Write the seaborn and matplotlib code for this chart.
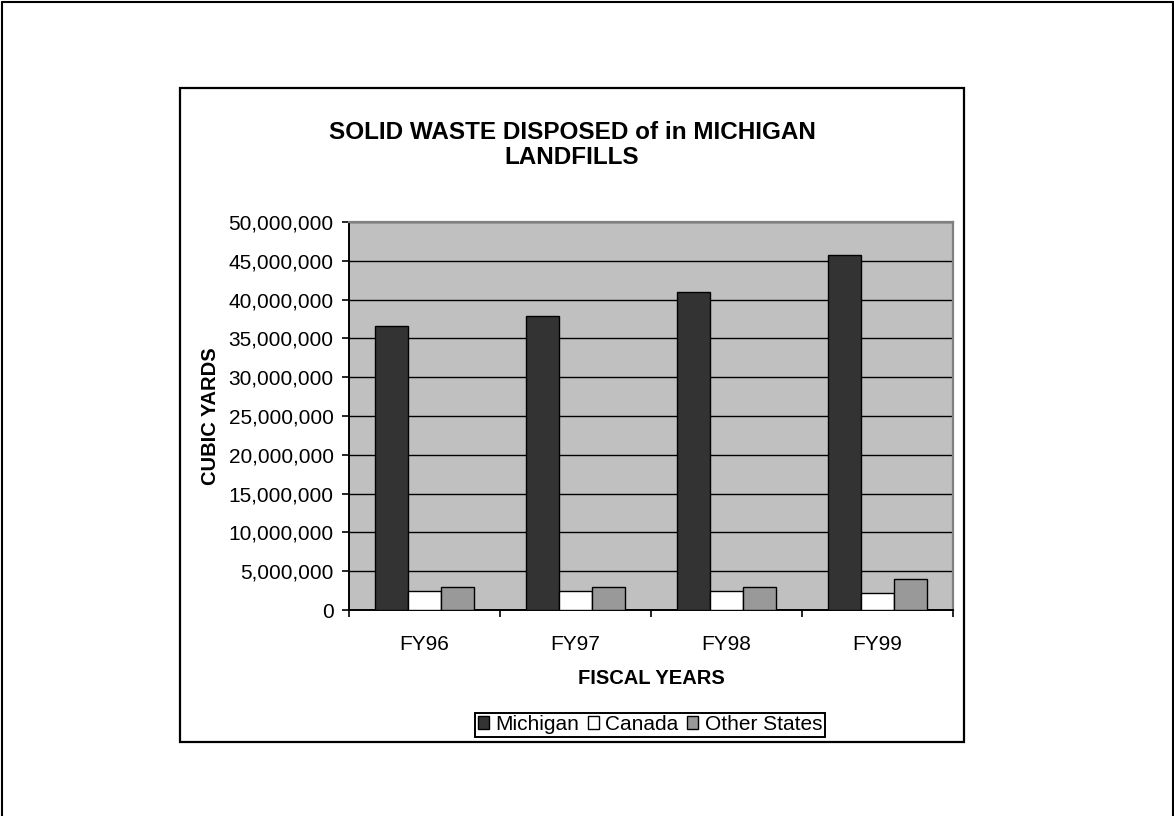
import numpy as np
import pandas as pd
import matplotlib
matplotlib.use("Agg")
import matplotlib.pyplot as plt
from matplotlib.ticker import FuncFormatter, FixedLocator
from matplotlib.lines import Line2D
from matplotlib.patches import Rectangle
import seaborn as sns

# --- data ---
years = ["FY96", "FY97", "FY98", "FY99"]
sources = ["Michigan", "Canada", "Other States"]
michigan = [36_600_000, 37_900_000, 41_000_000, 45_700_000]
canada = [2_400_000, 2_400_000, 2_400_000, 2_150_000]
other_states = [2_930_000, 2_930_000, 2_930_000, 3_950_000]
colors = {"Michigan": "#333333", "Canada": "#ffffff", "Other States": "#999999"}

df = pd.DataFrame({
    "year": years * 3,
    "source": [s for s in sources for _ in years],
    "yards": michigan + canada + other_states,
})

sns.set_theme(style="white")
plt.rcParams["font.family"] = ["Liberation Sans", "DejaVu Sans"]
plt.rcParams.update({"text.color": "black", "axes.labelcolor": "black",
                     "xtick.color": "black", "ytick.color": "black"})

W, H = 1174, 816
fig = plt.figure(figsize=(W / 100, H / 100), dpi=100)

# outer page frame (left/top/right) and inner chart box
fig.add_artist(Line2D([1.5 / W, 1.5 / W], [0, 1 - 1.5 / H], color="black", lw=1.5, transform=fig.transFigure))
fig.add_artist(Line2D([1.5 / W, 1 - 1.5 / W], [1 - 1.5 / H, 1 - 1.5 / H], color="black", lw=1.5, transform=fig.transFigure))
fig.add_artist(Line2D([1 - 1.5 / W, 1 - 1.5 / W], [0, 1 - 1.5 / H], color="black", lw=1.5, transform=fig.transFigure))
fig.add_artist(Rectangle((180 / W, 1 - 742 / H), (964 - 180) / W, (742 - 88) / H,
                         fill=False, edgecolor="black", lw=1.6, transform=fig.transFigure))

ax = fig.add_axes([349 / W, 1 - 610 / H, (953 - 349) / W, (610 - 222) / H])
ax.set_facecolor("#c0c0c0")

sns.barplot(data=df, x="year", y="yards", hue="source", hue_order=sources,
            palette=colors, width=0.66, edgecolor="black", linewidth=1.0,
            saturation=1, ax=ax, legend=True, zorder=3)

ax.set_ylim(0, 50_000_000)
ax.set_xlim(-0.5, 3.5)
ax.yaxis.set_major_locator(FixedLocator(np.arange(0, 50_000_001, 5_000_000)))
ax.yaxis.set_major_formatter(FuncFormatter(lambda v, p: f"{v:,.0f}"))
ax.grid(axis="y", color="black", lw=1.0, zorder=0)
ax.set_axisbelow(True)

for side in ["top", "right"]:
    ax.spines[side].set_color("#808080")
    ax.spines[side].set_linewidth(1.6)
for side in ["left", "bottom"]:
    ax.spines[side].set_color("black")
    ax.spines[side].set_linewidth(1.4)

ax.tick_params(axis="y", which="major", direction="out", length=5, width=1.2,
               color="black", labelsize=15, pad=6, left=True)
ax.set_xticks(range(len(years)))
ax.set_xticklabels(years)
ax.set_xticks(np.arange(-0.5, 4.0, 1.0), minor=True)
ax.tick_params(axis="x", which="major", length=0, labelsize=15, pad=18)
ax.tick_params(axis="x", which="minor", direction="out", length=5, width=1.2,
               color="black", bottom=True)

ax.set_xlabel("")
ax.set_ylabel("")
fig.text(651 / W, 1 - 678 / H, "FISCAL YEARS", ha="center", va="center",
         fontsize=14.5, fontweight="bold")
fig.text(210 / W, 1 - 416 / H, "CUBIC YARDS", ha="center", va="center",
         rotation=90, fontsize=14.5, fontweight="bold")
fig.text(572 / W, 1 - 145 / H, "SOLID WASTE DISPOSED of in MICHIGAN\nLANDFILLS",
         ha="center", va="center", fontsize=17.5, fontweight="bold", linespacing=1.1)

handles, labels = ax.get_legend_handles_labels()
ax.get_legend().remove()
leg = fig.legend(handles, labels, loc="center", bbox_to_anchor=(650 / W, 1 - 724.5 / H),
                 ncol=3, frameon=True, fancybox=False, edgecolor="black", framealpha=1,
                 fontsize=15, handlelength=0.55, handleheight=0.55, handletextpad=0.3,
                 columnspacing=0.4, borderpad=0.12, borderaxespad=0)
leg.get_frame().set_linewidth(1.4)

fig.savefig("out.png", dpi=100)
